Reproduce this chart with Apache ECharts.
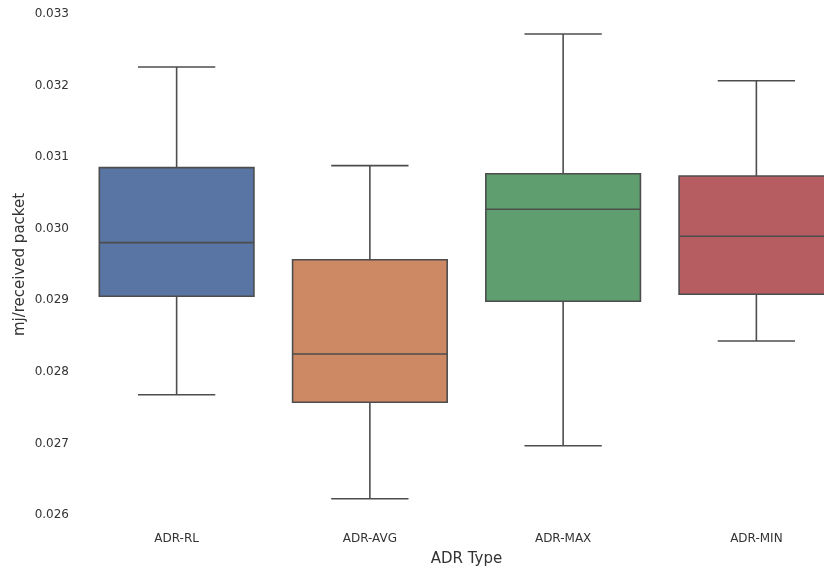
<!DOCTYPE html>
<html>
<head>
<meta charset="utf-8">
<script src="https://cdn.jsdelivr.net/npm/echarts@6/dist/echarts.min.js"></script>
<style>html,body{margin:0;padding:0;background:#fff;}#c{width:824px;height:570px;}</style>
</head>
<body>
<div id="c"></div>
<script>
const categories = ['ADR-RL', 'ADR-AVG', 'ADR-MAX', 'ADR-MIN'];
// [lower whisker, Q1, median, Q3, upper whisker]
const lowerWhisker = [0.027681, 0.026228, 0.026968, 0.028431];
const q1Values     = [0.029056, 0.027575, 0.028986, 0.029084];
const medianValues = [0.029805, 0.028250, 0.030271, 0.029894];
const q3Values     = [0.030853, 0.029567, 0.030769, 0.030737];
const upperWhisker = [0.032260, 0.030881, 0.032721, 0.032068];
const yTicks = [0.026, 0.027, 0.028, 0.029, 0.030, 0.031, 0.032, 0.033];
const boxColors = ['#5875a4', '#cc8963', '#5f9e6e', '#b55d60'];

const seriesData = categories.map((c, i) => [i, lowerWhisker[i], q1Values[i], medianValues[i], q3Values[i], upperWhisker[i]]);

const edge = '#4d4d4d';
const textColor = '#333333';
const chart = echarts.init(document.getElementById('c'), null, {renderer: 'canvas'});
chart.setOption({
  backgroundColor: '#ffffff',
  animation: false,
  grid: {left: 80, top: 14, width: 773, height: 501, containLabel: false, outerBoundsMode: 'none'},
  xAxis: {
    type: 'category',
    data: categories,
    name: 'ADR Type',
    nameLocation: 'middle',
    nameGap: 37,
    nameMoveOverlap: false,
    nameTextStyle: {fontFamily: 'DejaVu Sans', fontSize: 15, color: textColor},
    axisLine: {show: false},
    axisTick: {show: false},
    splitLine: {show: false},
    axisLabel: {fontFamily: 'DejaVu Sans', fontSize: 12, color: textColor, margin: 18}
  },
  yAxis: {
    type: 'value',
    min: yTicks[0],
    max: yTicks[yTicks.length - 1],
    interval: 0.001,
    name: 'mj/received packet',
    nameLocation: 'middle',
    nameGap: 52,
    nameMoveOverlap: false,
    nameTextStyle: {fontFamily: 'DejaVu Sans', fontSize: 15, color: textColor},
    axisLine: {show: false},
    axisTick: {show: false},
    splitLine: {show: false},
    axisLabel: {fontFamily: 'DejaVu Sans', fontSize: 12, color: textColor, margin: 11,
      formatter: v => v.toFixed(3)}
  },
  series: [{
    type: 'custom',
    data: seriesData,
    encode: {x: 0, y: [1, 2, 3, 4, 5]},
    renderItem: function (params, api) {
      const idx = api.value(0);
      const band = api.size([1, 0])[0];
      const bw = band * 0.8;
      const cx = api.coord([idx, api.value(3)])[0];
      const yLow = api.coord([idx, api.value(1)])[1];
      const yQ1 = api.coord([idx, api.value(2)])[1];
      const yMed = api.coord([idx, api.value(3)])[1];
      const yQ3 = api.coord([idx, api.value(4)])[1];
      const yHigh = api.coord([idx, api.value(5)])[1];
      const ls = {stroke: edge, lineWidth: 1.6};
      const cap = bw / 2;
      return {
        type: 'group',
        children: [
          {type: 'line', shape: {x1: cx, y1: yQ3, x2: cx, y2: yHigh}, style: ls},
          {type: 'line', shape: {x1: cx, y1: yQ1, x2: cx, y2: yLow}, style: ls},
          {type: 'line', shape: {x1: cx - cap / 2, y1: yHigh, x2: cx + cap / 2, y2: yHigh}, style: ls},
          {type: 'line', shape: {x1: cx - cap / 2, y1: yLow, x2: cx + cap / 2, y2: yLow}, style: ls},
          {type: 'rect', shape: {x: cx - bw / 2, y: yQ3, width: bw, height: yQ1 - yQ3},
            style: {fill: boxColors[idx], stroke: edge, lineWidth: 1.6}},
          {type: 'line', shape: {x1: cx - bw / 2, y1: yMed, x2: cx + bw / 2, y2: yMed}, style: ls}
        ]
      };
    }
  }]
});
</script>
</body>
</html>
